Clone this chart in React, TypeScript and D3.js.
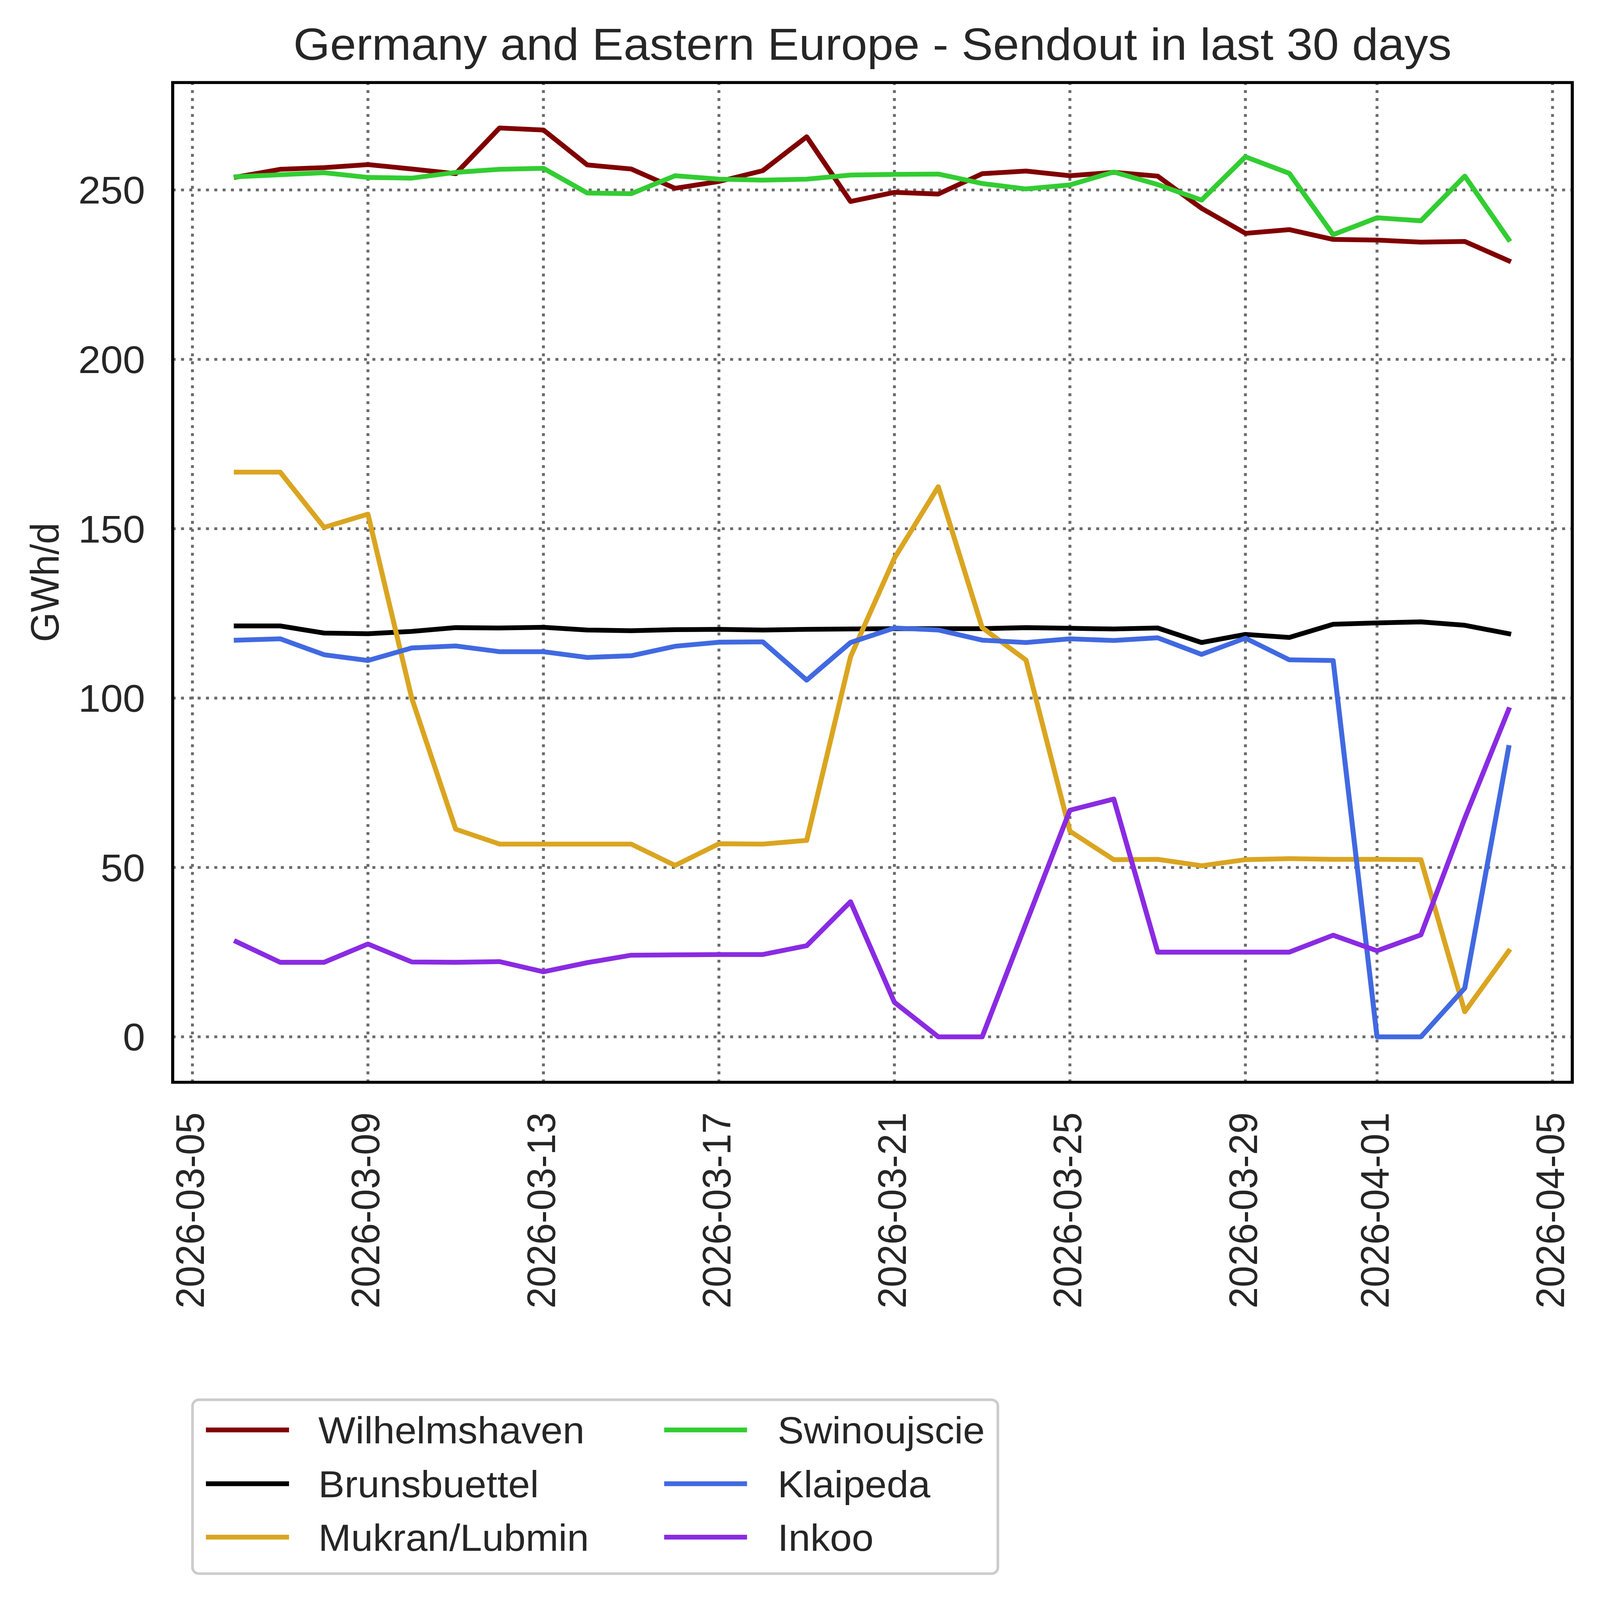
import React from "react";
import * as d3 from "d3";

const dates: string[] = [
  "2026-03-06", "2026-03-07", "2026-03-08", "2026-03-09", "2026-03-10", "2026-03-11",
  "2026-03-12", "2026-03-13", "2026-03-14", "2026-03-15", "2026-03-16", "2026-03-17",
  "2026-03-18", "2026-03-19", "2026-03-20", "2026-03-21", "2026-03-22", "2026-03-23",
  "2026-03-24", "2026-03-25", "2026-03-26", "2026-03-27", "2026-03-28", "2026-03-29",
  "2026-03-30", "2026-03-31", "2026-04-01", "2026-04-02", "2026-04-03", "2026-04-04",
];

const wilhelmshaven: number[] = [253.8, 256.1, 256.6, 257.5, 256.2, 254.8, 268.3, 267.7, 257.4, 256.2, 250.5, 252.5, 255.7, 265.7, 246.6, 249.3, 248.8, 254.8, 255.6, 254.2, 255.2, 254.1, 244.6, 237.2, 238.3, 235.4, 235.2, 234.6, 234.8, 229.1];
const brunsbuettel: number[] = [121.3, 121.3, 119.2, 119.0, 119.7, 120.8, 120.7, 120.9, 120.1, 119.9, 120.2, 120.3, 120.1, 120.3, 120.4, 120.5, 120.5, 120.5, 120.8, 120.6, 120.4, 120.7, 116.4, 118.8, 117.9, 121.8, 122.2, 122.5, 121.5, 119.0];
const mukran: number[] = [166.7, 166.7, 150.4, 154.3, 99.9, 61.3, 56.9, 56.9, 56.9, 56.9, 50.6, 57.0, 56.9, 58.0, 112.2, 141.3, 162.4, 120.8, 111.2, 60.7, 52.3, 52.4, 50.5, 52.3, 52.6, 52.4, 52.4, 52.3, 7.4, 25.3];
const swinoujscie: number[] = [253.9, 254.5, 255.1, 253.7, 253.5, 255.2, 256.1, 256.4, 249.1, 248.9, 254.2, 253.2, 252.9, 253.2, 254.4, 254.6, 254.7, 251.9, 250.3, 251.5, 255.3, 251.6, 247.0, 259.8, 254.9, 236.8, 241.8, 240.9, 254.1, 235.4];
const klaipeda: number[] = [117.1, 117.5, 112.8, 111.1, 114.8, 115.4, 113.7, 113.7, 112.0, 112.5, 115.3, 116.5, 116.6, 105.3, 116.4, 120.7, 120.1, 117.1, 116.4, 117.5, 117.0, 117.8, 112.9, 117.7, 111.3, 111.1, 0, 0, 14.4, 85.4];
const inkoo: number[] = [28.1, 22.0, 22.0, 27.4, 22.1, 22.0, 22.2, 19.2, 21.9, 24.1, 24.2, 24.3, 24.3, 26.9, 39.9, 10.2, 0, 0, 33.5, 66.9, 70.2, 25.0, 25.0, 25.0, 25.0, 30.0, 25.4, 30.1, 64.5, 96.6];

const seriesNames: string[] = ["Wilhelmshaven", "Brunsbuettel", "Mukran/Lubmin", "Swinoujscie", "Klaipeda", "Inkoo"];
const seriesColors: string[] = ["#800000", "#000000", "#DAA520", "#32CD32", "#4169E1", "#8A2BE2"];
const seriesValues: number[][] = [wilhelmshaven, brunsbuettel, mukran, swinoujscie, klaipeda, inkoo];

const xTickLabels: string[] = ["2026-03-05", "2026-03-09", "2026-03-13", "2026-03-17", "2026-03-21", "2026-03-25", "2026-03-29", "2026-04-01", "2026-04-05"];
const yTicks: number[] = [0, 50, 100, 150, 200, 250];

const TITLE = "Germany and Eastern Europe - Sendout in last 30 days";
const YLABEL = "GWh/d";

const VW = 1500;
const VH = (5915 / 5672) * 1500;
const FONT = "'Liberation Sans', Arial, Helvetica, sans-serif";
const TEXT = "#262626";
const FS = 37.5;
const FS_LEGEND = 36.8;
const FS_TITLE = 44.2;

const plot = { left: 161.9, right: 1474, top: 80.7, bottom: 1058.1 };

export default function App() {
  const parse = d3.utcParse("%Y-%m-%d");
  const xs = dates.map((d) => parse(d) as Date);
  const x0 = xs[0].getTime();
  const x1 = xs[xs.length - 1].getTime();
  const xm = (x1 - x0) * 0.05;
  const x = d3.scaleUtc().domain([new Date(x0 - xm), new Date(x1 + xm)]).range([plot.left, plot.right]);

  const all = seriesValues.flat();
  const vmin = d3.min(all) as number;
  const vmax = d3.max(all) as number;
  const ym = (vmax - vmin) * 0.05;
  const y = d3.scaleLinear().domain([vmin - ym, vmax + ym]).range([plot.bottom, plot.top]);

  const line = d3
    .line<number>()
    .x((_, i) => x(xs[i]))
    .y((v) => y(v));

  const xTickDates = xTickLabels.map((s) => parse(s) as Date);
  const gridColor = "#6b6b6b";

  const legendRows = [0, 1, 2];
  const legendX = [{ h1: 195.4, h2: 268.6, t: 298.5 }, { h1: 625.0, h2: 698.0, t: 729 }];
  const legendY = [1398, 1450.6, 1502.8];
  const midY = (plot.top + plot.bottom) / 2;

  return (
    <>
      <style>{"html,body{margin:0;padding:0;overflow:hidden;background:#fff;}"}</style>
      <svg
        viewBox={`0 0 ${VW} ${VH}`}
        preserveAspectRatio="none"
        style={{ position: "fixed", left: 0, top: 0, width: "100vw", height: "100vh", display: "block", background: "#ffffff" }}
        xmlns="http://www.w3.org/2000/svg"
      >
        <rect x={0} y={0} width={VW} height={VH} fill="#ffffff" />
        {/* grid */}
        <g>
          {yTicks.map((t) => (
            <line
              key={`gy${t}`}
              x1={plot.left}
              x2={plot.right}
              y1={y(t)}
              y2={y(t)}
              stroke={gridColor}
              strokeWidth={2.7}
              strokeDasharray="2.8 5.0"
            />
          ))}
          {xTickDates.map((d, i) => (
            <line
              key={`gx${i}`}
              x1={x(d)}
              x2={x(d)}
              y1={plot.bottom}
              y2={plot.top}
              stroke={gridColor}
              strokeWidth={2.7}
              strokeDasharray="2.8 5.0"
            />
          ))}
        </g>
        {/* series */}
        <g fill="none">
          {seriesValues.map((vals, k) => (
            <path
              key={seriesNames[k]}
              d={line(vals) || ""}
              stroke={seriesColors[k]}
              strokeWidth={4.7}
              strokeLinejoin="round"
              strokeLinecap="square"
            />
          ))}
        </g>
        {/* spines */}
        <rect
          x={plot.left}
          y={plot.top}
          width={plot.right - plot.left}
          height={plot.bottom - plot.top}
          fill="none"
          stroke="#000000"
          strokeWidth={2.9}
        />
        {/* tick labels and titles */}
        <g fontFamily={FONT} fontSize={FS} fill={TEXT}>
          {yTicks.map((t) => (
            <text key={`yt${t}`} x={136} y={y(t) + 13.4} textAnchor="end">
              {d3.format("d")(t)}
            </text>
          ))}
          {xTickDates.map((d, i) => {
            const px = x(d) + 10.8;
            const py = 1087.5;
            return (
              <text key={`xt${i}`} x={px} y={py} textAnchor="end" transform={`rotate(-90 ${px} ${py})`}>
                {xTickLabels[i]}
              </text>
            );
          })}
          <text x={54.9} y={midY} textAnchor="middle" transform={`rotate(-90 54.9 ${midY})`}>
            {YLABEL}
          </text>
          <text x={(plot.left + plot.right) / 2} y={58.5} textAnchor="middle" fontSize={FS_TITLE}>
            {TITLE}
          </text>
        </g>
        {/* legend */}
        <g fontFamily={FONT} fontSize={FS_LEGEND} fill={TEXT}>
          <rect x={180.5} y={1368.5} width={755} height={170} rx={6} ry={6} fill="#ffffff" stroke="#cccccc" strokeWidth={2.5} />
          {seriesNames.map((name, k) => {
            const col = Math.floor(k / 3);
            const row = legendRows[k % 3];
            const cy = legendY[row];
            const lx = legendX[col];
            return (
              <g key={`lg${k}`}>
                <line x1={lx.h1} x2={lx.h2} y1={cy} y2={cy} stroke={seriesColors[k]} strokeWidth={4.7} strokeLinecap="square" />
                <text x={lx.t} y={cy + 13.2}>{name}</text>
              </g>
            );
          })}
        </g>
      </svg>
    </>
  );
}
